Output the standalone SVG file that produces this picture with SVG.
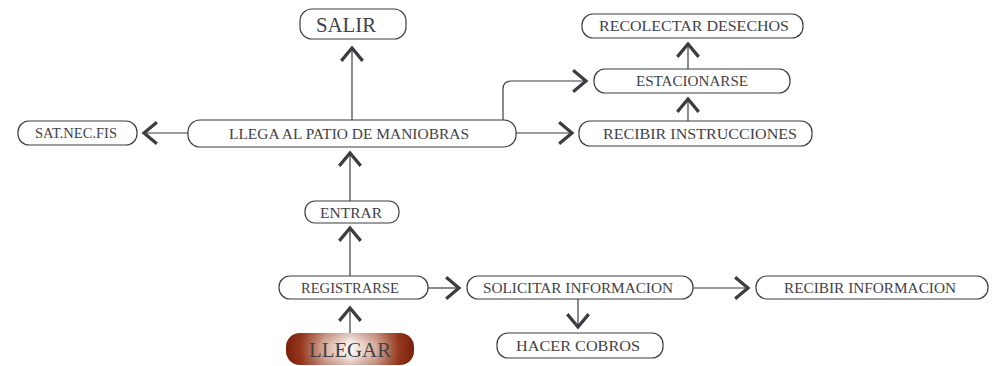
<svg xmlns="http://www.w3.org/2000/svg" width="994" height="366" viewBox="0 0 994 366">
<style>
.n{fill:#fff;stroke:#3a3d42;stroke-width:1.2}
.t{font-family:"Liberation Serif","DejaVu Serif",serif;font-size:15px;fill:#3f4247;text-anchor:middle}
.big{font-size:22px}
.c{fill:none;stroke:#3a3d42;stroke-width:1.2}
</style>
<defs>
<marker id="chev" markerUnits="userSpaceOnUse" markerWidth="30" markerHeight="30" viewBox="-16 -14 20 28" refX="0" refY="0" orient="auto">
<path d="M-12,-10 L0,0 L-12,10" fill="none" stroke="#3a3d42" stroke-width="3"/>
</marker>
<linearGradient id="lg" x1="0" y1="0" x2="1" y2="0">
<stop offset="0" stop-color="#7a1f0a"/>
<stop offset="0.12" stop-color="#96391e"/>
<stop offset="0.3" stop-color="#d8ad9c"/>
<stop offset="0.5" stop-color="#fdfaf8"/>
<stop offset="0.7" stop-color="#d8ad9c"/>
<stop offset="0.88" stop-color="#96391e"/>
<stop offset="1" stop-color="#7a1f0a"/>
</linearGradient>
<linearGradient id="lv" x1="0" y1="0" x2="0" y2="1">
<stop offset="0" stop-color="#7a1f0a" stop-opacity="0.25"/>
<stop offset="0.35" stop-color="#7a1f0a" stop-opacity="0"/>
<stop offset="0.65" stop-color="#7a1f0a" stop-opacity="0"/>
<stop offset="1" stop-color="#7a1f0a" stop-opacity="0.25"/>
</linearGradient>
</defs>
<g id="connectors">
<line class="c" x1="350" y1="333" x2="350" y2="308" marker-end="url(#chev)"/>
<line class="c" x1="350" y1="276" x2="350" y2="228" marker-end="url(#chev)"/>
<line class="c" x1="350" y1="201" x2="350" y2="153" marker-end="url(#chev)"/>
<line class="c" x1="352" y1="120" x2="352" y2="48" marker-end="url(#chev)"/>
<line class="c" x1="188" y1="133" x2="144" y2="133" marker-end="url(#chev)"/>
<line class="c" x1="516" y1="133" x2="572" y2="133" marker-end="url(#chev)"/>
<path class="c" d="M503,120 L503,89 Q503,81 511,81 L586,81" marker-end="url(#chev)"/>
<line class="c" x1="688" y1="121" x2="688" y2="99" marker-end="url(#chev)"/>
<line class="c" x1="688" y1="69" x2="688" y2="44" marker-end="url(#chev)"/>
<line class="c" x1="428" y1="288" x2="459" y2="288" marker-end="url(#chev)"/>
<line class="c" x1="693" y1="288" x2="748" y2="288" marker-end="url(#chev)"/>
<line class="c" x1="578" y1="299" x2="578" y2="327" marker-end="url(#chev)"/>
</g>
<g id="salir"><rect class="n" x="300" y="9" width="106" height="30" rx="12" ry="12"/><text class="t big" x="346" y="32" textLength="60" lengthAdjust="spacingAndGlyphs">SALIR</text></g>
<g id="recolectar"><rect class="n" x="582" y="14" width="221" height="24" rx="11" ry="11"/><text class="t" x="694" y="31" textLength="190" lengthAdjust="spacingAndGlyphs">RECOLECTAR DESECHOS</text></g>
<g id="estacionarse"><rect class="n" x="594" y="69" width="196" height="24" rx="11" ry="11"/><text class="t" x="692" y="86" textLength="112" lengthAdjust="spacingAndGlyphs">ESTACIONARSE</text></g>
<g id="satnecfis"><rect class="n" x="18" y="121" width="119" height="24" rx="11" ry="11"/><text class="t" x="76" y="138" textLength="82" lengthAdjust="spacingAndGlyphs">SAT.NEC.FIS</text></g>
<g id="llega"><rect class="n" x="188" y="120" width="328" height="27" rx="12" ry="12"/><text class="t" x="349" y="139" textLength="240" lengthAdjust="spacingAndGlyphs">LLEGA AL PATIO DE MANIOBRAS</text></g>
<g id="recibirinstrucciones"><rect class="n" x="579" y="121" width="233" height="25" rx="11" ry="11"/><text class="t" x="700" y="139" textLength="194" lengthAdjust="spacingAndGlyphs">RECIBIR INSTRUCCIONES</text></g>
<g id="entrar"><rect class="n" x="305" y="201" width="94" height="22" rx="10" ry="10"/><text class="t" x="351" y="218" textLength="62" lengthAdjust="spacingAndGlyphs">ENTRAR</text></g>
<g id="registrarse"><rect class="n" x="279" y="276" width="149" height="23" rx="11" ry="11"/><text class="t" x="350" y="293" textLength="98" lengthAdjust="spacingAndGlyphs">REGISTRARSE</text></g>
<g id="solicitar"><rect class="n" x="467" y="276" width="226" height="23" rx="11" ry="11"/><text class="t" x="578" y="293" textLength="190" lengthAdjust="spacingAndGlyphs">SOLICITAR INFORMACION</text></g>
<g id="recibirinformacion"><rect class="n" x="756" y="276" width="232" height="23" rx="11" ry="11"/><text class="t" x="870" y="293" textLength="172" lengthAdjust="spacingAndGlyphs">RECIBIR INFORMACION</text></g>
<g id="hacercobros"><rect class="n" x="497" y="333" width="166" height="25" rx="11" ry="11"/><text class="t" x="578" y="351" textLength="124" lengthAdjust="spacingAndGlyphs">HACER COBROS</text></g>
<g id="llegar"><rect x="286" y="333" width="128" height="32" rx="14" ry="14" fill="url(#lg)"/><rect x="286" y="333" width="128" height="32" rx="14" ry="14" fill="url(#lv)"/><text class="t big" x="350" y="357" textLength="82" lengthAdjust="spacingAndGlyphs">LLEGAR</text></g>
</svg>
